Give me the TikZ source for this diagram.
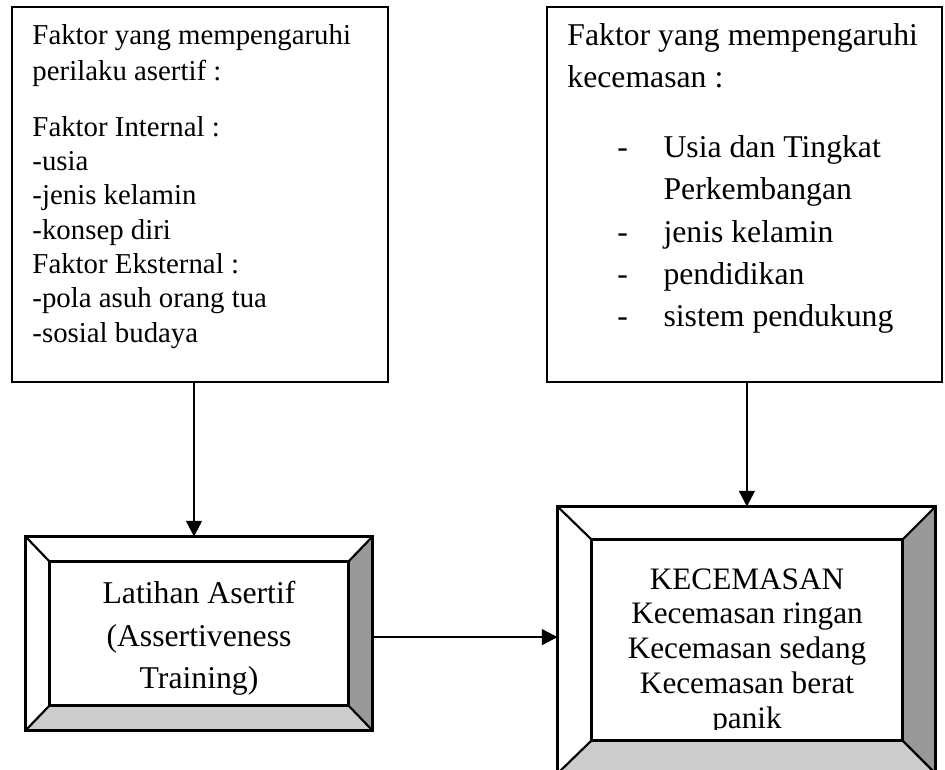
\documentclass[tikz,border=0pt]{standalone}
\usepackage{fontspec}
\setmainfont{Liberation Serif}
\usepackage{xcolor}
\usetikzlibrary{arrows.meta}
\usetikzlibrary{positioning}
\usetikzlibrary{fit}

\definecolor{bevelgelap}{HTML}{999999}
\definecolor{bevelterang}{HTML}{CCCCCC}

\tikzset{
	kotak/.style={draw, line width=0.9pt, inner sep=0pt},
	bingkai/.style={inner sep=0pt},
	garis/.style={line width=0.9pt},
	panah/.style={-{Triangle[length=6.5pt, width=6.5pt]}, line width=1pt},
	teksKecil/.style={font=\fontsize{12}{14.3}\selectfont, inner sep=0pt, align=left},
	teksBesar/.style={font=\fontsize{13.2}{17.6}\selectfont, inner sep=0pt, align=left},
	teksTengah/.style={font=\fontsize{13.2}{17.6}\selectfont, inner sep=0pt, align=center},
	teksCemas/.style={font=\fontsize{13}{14.5}\selectfont, inner sep=0pt, align=center}
}

% kotak berbingkai miring: #1 = nama node luar, #2 = nama node dalam
\newcommand{\bevelbox}[2]{
	\fill[bevelgelap] (#1.north east) -- (#1.south east) -- (#2.south east) -- (#2.north east) -- cycle;
	\fill[bevelterang] (#1.south west) -- (#1.south east) -- (#2.south east) -- (#2.south west) -- cycle;
	\draw[garis] (#1.north west) rectangle (#1.south east);
	\draw[garis] (#2.north west) rectangle (#2.south east);
	\draw[garis] (#1.north west) -- (#2.north west) (#1.north east) -- (#2.north east)
		(#1.south west) -- (#2.south west) (#1.south east) -- (#2.south east);
}

\begin{document}
\begin{tikzpicture}[x=0.01464cm, y=-0.01464cm]
	\clip (0,0) rectangle (945,769);

	% faktor perilaku asertif
	\node[kotak, fit={(12,7) (388,382)}] (asertif) {};
	\node[teksKecil, anchor=north west] (asertif-teks) at (32,24) {Faktor yang mempengaruhi\\[0.6pt]
		perilaku asertif :\\[9pt]
		Faktor Internal :\\
		-usia\\
		-jenis kelamin\\
		-konsep diri\\
		Faktor Eksternal :\\
		-pola asuh orang tua\\
		-sosial budaya};

	% faktor kecemasan
	\node[kotak, fit={(547,7) (942,382)}] (kanan) {};
	\node[teksBesar, anchor=north west] (kanan-teks) at (567,23) {Faktor yang mempengaruhi\\
		kecemasan :\\[11.5pt]
		\hspace*{20.8pt}\makebox[19.2pt][l]{-}Usia dan Tingkat\\
		\hspace*{40pt}Perkembangan\\
		\hspace*{20.8pt}\makebox[19.2pt][l]{-}jenis kelamin\\
		\hspace*{20.8pt}\makebox[19.2pt][l]{-}pendidikan\\
		\hspace*{20.8pt}\makebox[19.2pt][l]{-}sistem pendukung};

	% latihan asertif
	\node[bingkai, fit={(26,537) (372,730)}] (latihan) {};
	\node[bingkai, fit={(50,562) (348,705)}] (latihan-dalam) {};
	\bevelbox{latihan}{latihan-dalam}
	\node[teksTengah, yshift=-2pt] (latihan-teks) at (latihan-dalam.center) {Latihan Asertif\\
		(Assertiveness\\
		Training)};

	% kecemasan
	\node[bingkai, fit={(558,507) (935,773)}] (cemas) {};
	\node[bingkai, fit={(592,540) (902,740)}] (cemas-dalam) {};
	\bevelbox{cemas}{cemas-dalam}
	\begin{scope}
		\clip (592,540) rectangle (902,729);
		\node[teksCemas, anchor=north] (cemas-teks) at (747,568) {KECEMASAN\\
			Kecemasan ringan\\
			Kecemasan sedang\\
			Kecemasan berat\\
			panik};
	\end{scope}

	% panah
	\draw[panah] ([xshift=-2.5pt]asertif.south) -- ([xshift=-2.5pt]asertif.south |- latihan.north);
	\draw[panah] ([xshift=1pt]kanan.south) -- ([xshift=1pt]kanan.south |- cemas.north);
	\draw[panah] ([yshift=-1.5pt]latihan.east) -- ([yshift=-1.5pt]latihan.east -| cemas.west);
\end{tikzpicture}
\end{document}
